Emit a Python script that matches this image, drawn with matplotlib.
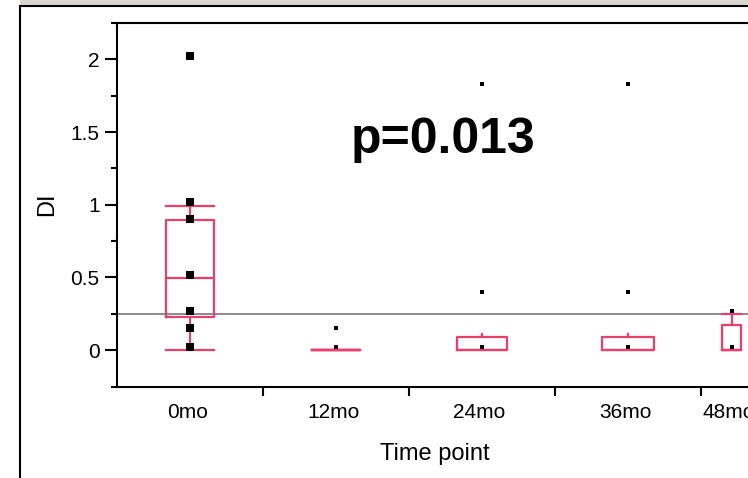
import matplotlib

matplotlib.use("Agg")
import matplotlib.pyplot as plt
from matplotlib.lines import Line2D
from matplotlib.patches import Rectangle

# groups and their positions on the (proportional) x axis
groups = ["0mo", "12mo", "24mo", "36mo", "48mo"]
group_pos = [0.5, 1.5, 2.5, 3.5, 4.21]
group_edges = [1, 2, 3, 4]
box_widths = [0.335, 0.335, 0.34, 0.35, 0.13]
cap_widths = [0.33, 0.335, 0.0, 0.0, 0.13]

# individual DI values
points = [
    [2.02, 1.02, 0.90, 0.52, 0.27, 0.15, 0.02],
    [0.15, 0.02],
    [1.83, 0.40, 0.02],
    [1.83, 0.40, 0.02],
    [0.27, 0.02],
]
marker_sizes = [5.2, 3.0, 3.0, 3.0, 3.0]

# box plot summaries
q1 = [0.225, 0.0, 0.0, 0.0, 0.0]
med = [0.493, 0.0, 0.0, 0.0, 0.0]
q3 = [0.893, 0.0, 0.09, 0.09, 0.176]
whis_lo = [0.0, 0.0, 0.0, 0.0, 0.0]
whis_hi = [0.99, 0.0, 0.11, 0.11, 0.247]

grand_mean = 0.247
p_text = "p=0.013"

box_color = "#e8406a"

fig = plt.figure(figsize=(7.48, 4.78), dpi=100, facecolor="white")
plt.rcParams["font.family"] = ["Liberation Sans", "DejaVu Sans"]

# window chrome: grey strip on top and outer frame
fig.patches.append(Rectangle((20 / 748, 1 - 4.5 / 478), 1, 4.5 / 478, transform=fig.transFigure,
                             facecolor="#d8d6ce", edgecolor="none"))
fig.lines.append(Line2D([19.5 / 748, 19.5 / 748], [0, 1 - 5.5 / 478], transform=fig.transFigure,
                        color="black", lw=1.5))
fig.lines.append(Line2D([19.5 / 748, 1], [1 - 5.5 / 478, 1 - 5.5 / 478], transform=fig.transFigure,
                        color="black", lw=1.5))

ax = fig.add_axes([117 / 748, (478 - 386.5) / 478, 4.45 * 146 / 748, 363.5 / 478])
ax.set_xlim(0, 4.45)
ax.set_ylim(-0.25, 2.25)

ax.axhline(grand_mean, color="#8a8a8a", lw=1.4, zorder=1)

stats = []
for i, g in enumerate(groups):
    stats.append({"label": g, "q1": q1[i], "med": med[i], "q3": q3[i],
                  "whislo": whis_lo[i], "whishi": whis_hi[i]})

ax.bxp(stats, positions=group_pos, widths=box_widths, capwidths=cap_widths,
       showfliers=False, manage_ticks=False,
       boxprops={"color": box_color, "lw": 1.6},
       whiskerprops={"color": box_color, "lw": 1.6},
       capprops={"color": box_color, "lw": 1.6},
       medianprops={"color": box_color, "lw": 1.6},
       zorder=2)

for i, vals in enumerate(points):
    ax.plot([group_pos[i]] * len(vals), vals, "s", color="black",
            ms=marker_sizes[i], mec="black", mew=0, zorder=3)

ax.text(2.23, 1.356, p_text, ha="center", va="baseline", fontsize=36, fontweight="bold")

# axes styling
for side in ["left", "bottom", "top"]:
    ax.spines[side].set_linewidth(1.5)
ax.spines["right"].set_visible(False)

ax.set_yticks([0, 0.5, 1, 1.5, 2])
ax.set_yticklabels(["0", "0.5", "1", "1.5", "2"])
ax.set_yticks([-0.25, 0.25, 0.75, 1.25, 1.75, 2.25], minor=True)
ax.tick_params(axis="y", which="major", length=8.5, width=1.5, pad=4, labelsize=15)
ax.tick_params(axis="y", which="minor", length=4.5, width=1.5)

ax.set_xticks(group_edges)
ax.set_xticklabels([])
ax.set_xticks([p - 0.02 for p in group_pos], minor=True)
ax.set_xticklabels(groups, minor=True)
ax.tick_params(axis="x", which="major", length=6.5, width=1.5)
ax.tick_params(axis="x", which="minor", length=0, pad=12, labelsize=15)

ax.set_ylabel("DI", fontsize=17, va="center", ha="center")
ax.yaxis.set_label_coords(-0.1077, 0.502)
ax.set_xlabel("Time point", fontsize=17, va="center", ha="center")
ax.xaxis.set_label_coords(0.489, -0.186)

fig.savefig("out.png", dpi=100, facecolor="white")
